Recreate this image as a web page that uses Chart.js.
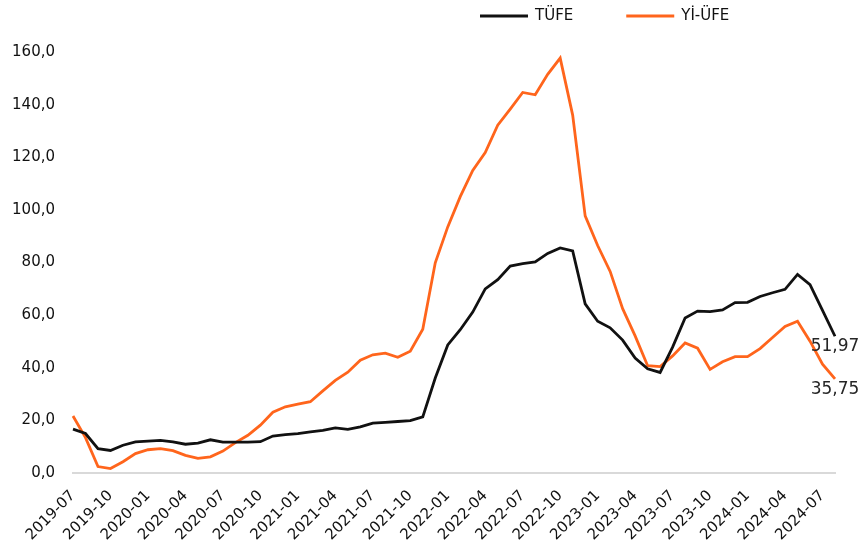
<!DOCTYPE html>
<html lang="tr">
<head>
<meta charset="UTF-8">
<title>TÜFE ve Yİ-ÜFE</title>
<script src="https://cdn.jsdelivr.net/npm/chart.js@4.4.0/dist/chart.umd.min.js"></script>
<style>
  html, body { margin: 0; padding: 0; background: #fff; }
  #wrap { position: relative; width: 861px; height: 554px; }
</style>
</head>
<body>
<div id="wrap"><canvas id="inflChart"></canvas></div>
<script>
// Monthly categories 2019-07 .. 2024-08
const months = [];
for (let y = 2019, m = 7; y < 2024 || (y === 2024 && m <= 8); m++) {
  if (m > 12) { m = 1; y++; }
  months.push(`${y}-${String(m).padStart(2, '0')}`);
}

// Annual change (%)
const tufe = [
  16.65, 15.01, 9.26, 8.55, 10.56, 11.84,
  12.15, 12.37, 11.86, 10.94, 11.39, 12.62, 11.76, 11.77, 11.75, 11.89, 14.03, 14.60,
  14.97, 15.61, 16.19, 17.14, 16.59, 17.53, 18.95, 19.25, 19.58, 19.89, 21.31, 36.08,
  48.69, 54.44, 61.14, 69.97, 73.50, 78.62, 79.60, 80.21, 83.45, 85.51, 84.39, 64.27,
  57.68, 55.18, 50.51, 43.68, 39.59, 38.21, 47.83, 58.94, 61.53, 61.36, 61.98, 64.77,
  64.86, 67.07, 68.50, 69.80, 75.45, 71.60, 61.78, 51.97
];
const yiufe = [
  21.66, 13.45, 2.45, 1.70, 4.26, 7.36,
  8.84, 9.26, 8.50, 6.71, 5.53, 6.17, 8.33, 11.53, 14.33, 18.20, 23.11, 25.15,
  26.16, 27.09, 31.20, 35.17, 38.33, 42.89, 44.92, 45.52, 43.96, 46.31, 54.62, 79.89,
  93.53, 105.01, 114.97, 121.82, 132.16, 138.31, 144.61, 143.75, 151.50, 157.69, 136.02, 97.72,
  86.46, 76.61, 62.45, 52.11, 40.76, 40.42, 44.50, 49.41, 47.44, 39.39, 42.25, 44.22,
  44.20, 47.29, 51.47, 55.66, 57.68, 50.09, 41.37, 35.75
];

const FONT = '"DejaVu Sans", Verdana, sans-serif';
const fmt = (v, d) => v.toFixed(d).replace('.', ',');

// Legend drawn in the top padding
const topLegend = {
  id: 'topLegend',
  afterDraw(chart) {
    const ctx = chart.ctx;
    ctx.save();
    ctx.font = `15px ${FONT}`;
    ctx.textBaseline = 'middle';
    let x = 480;
    const y = 16;
    chart.data.datasets.forEach(ds => {
      ctx.strokeStyle = ds.borderColor;
      ctx.lineWidth = 3;
      ctx.beginPath();
      ctx.moveTo(x, y);
      ctx.lineTo(x + 48, y);
      ctx.stroke();
      ctx.fillStyle = '#111';
      ctx.fillText(ds.label, x + 55, y);
      x += 55 + ctx.measureText(ds.label).width + 53;
    });
    ctx.restore();
  }
};

// Value of the last point under each line
const lastLabel = {
  id: 'lastLabel',
  afterDatasetsDraw(chart) {
    const ctx = chart.ctx;
    ctx.save();
    ctx.font = `17px ${FONT}`;
    ctx.fillStyle = '#262626';
    ctx.textAlign = 'center';
    ctx.textBaseline = 'top';
    chart.data.datasets.forEach((ds, i) => {
      const pts = chart.getDatasetMeta(i).data;
      const p = pts[pts.length - 1];
      ctx.fillText(fmt(ds.data[ds.data.length - 1], 2), p.x, p.y + 2);
    });
    ctx.restore();
  }
};

new Chart(document.getElementById('inflChart'), {
  type: 'line',
  data: {
    labels: months,
    datasets: [
      { label: 'TÜFE', data: tufe, borderColor: '#111111', backgroundColor: '#111111' },
      { label: 'Yİ-ÜFE', data: yiufe, borderColor: '#ff651c', backgroundColor: '#ff651c' }
    ]
  },
  options: {
    responsive: true,
    maintainAspectRatio: false,
    animation: false,
    layout: { padding: { top: 52, right: 26, left: 0, bottom: 0 } },
    elements: {
      line: { borderWidth: 2.8, tension: 0 },
      point: { radius: 0 }
    },
    plugins: {
      legend: { display: false },
      tooltip: { enabled: false }
    },
    scales: {
      x: {
        offset: false,
        grid: { display: false, drawTicks: false },
        border: { display: true, color: '#d9d9d9', width: 2 },
        afterFit(scale) { scale.height = 81; },
        ticks: {
          autoSkip: false,
          minRotation: 45,
          maxRotation: 45,
          padding: 14,
          color: '#111',
          font: { family: FONT, size: 15 },
          callback(val, idx) { return idx % 3 === 0 ? this.getLabelForValue(val) : null; }
        }
      },
      y: {
        min: 0,
        max: 160,
        grid: { display: false, drawTicks: false },
        border: { display: false },
        afterFit(scale) { scale.width = 73; },
        ticks: {
          stepSize: 20,
          padding: 18,
          color: '#111',
          font: { family: FONT, size: 15 },
          callback: v => fmt(v, 1)
        }
      }
    }
  },
  plugins: [topLegend, lastLabel]
});
</script>
</body>
</html>
